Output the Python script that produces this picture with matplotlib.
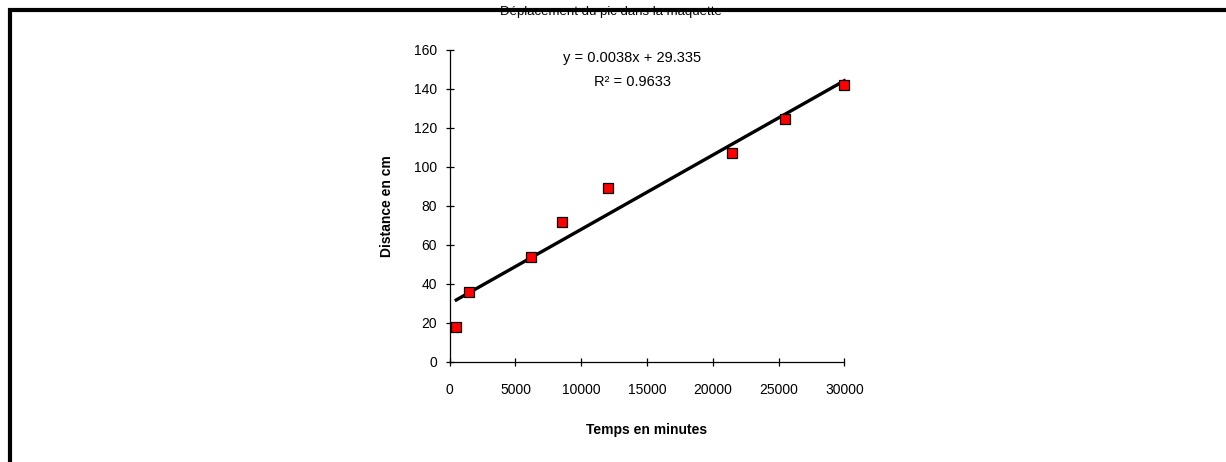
import numpy as np
import matplotlib
matplotlib.use('Agg')
import matplotlib.pyplot as plt
from matplotlib.lines import Line2D
from matplotlib.ticker import MultipleLocator

plt.rcParams['font.family'] = ['Liberation Sans', 'DejaVu Sans']

# données
temps = [500, 1500, 6200, 8500, 12000, 21500, 25500, 30000]
distance = [18, 36, 53.5, 71.5, 89, 107, 124.5, 142]
titre = "Déplacement du pic dans la maquette"
equation = "y = 0.0038x + 29.335"
r2 = "R² = 0.9633"

W, H = 1226, 462
fig = plt.figure(figsize=(W / 100, H / 100), dpi=100)
ax = fig.add_axes([449.7 / W, 1 - 361.7 / H, 394.6 / W, 311.7 / H])

# courbe de tendance linéaire
pente, origine = np.polyfit(temps, distance, 1)
xt = np.array([temps[0], temps[-1]])
ax.plot(xt, pente * xt + origine, color='black', lw=2.4, zorder=2, clip_on=False)

ax.plot(temps, distance, 's', ms=6.6, mfc='#ff0000', mec='black', mew=0.9,
        zorder=3, clip_on=False)

ax.set_xlim(0, 30000)
ax.set_ylim(0, 160)
ax.xaxis.set_major_locator(MultipleLocator(5000))
ax.yaxis.set_major_locator(MultipleLocator(20))
for s in ['top', 'right']:
    ax.spines[s].set_visible(False)
for s in ['left', 'bottom']:
    ax.spines[s].set_linewidth(0.9)
ax.tick_params(axis='x', direction='inout', length=6, width=0.9, labelsize=10, pad=12)
ax.tick_params(axis='y', direction='inout', length=6, width=0.9, labelsize=10, pad=6)

ax.set_xlabel('Temps en minutes', fontsize=10, fontweight='bold')
ax.xaxis.set_label_coords(0.5, (361.7 - 422.7) / 311.7)
ax.set_ylabel('Distance en cm', fontsize=10, fontweight='bold')
ax.yaxis.set_label_coords((394 - 449.7) / 394.6, 0.5)

ax.text((631.7 - 449.7) / 394.6, (361.7 - 58.3) / 311.7, equation,
        transform=ax.transAxes, ha='center', va='center', fontsize=10.5)
ax.text((632 - 449.7) / 394.6, (361.7 - 81.7) / 311.7, r2,
        transform=ax.transAxes, ha='center', va='center', fontsize=10.5)

# titre, coupé par le cadre
fig.text(611 / W, 1 - 15.5 / H, titre, ha='center', va='baseline', fontsize=9.5)

# cadre noir (haut et gauche)
fig.add_artist(Line2D([8 / W, 1.0], [1 - 10 / H, 1 - 10 / H], color='black',
                      lw=3, solid_capstyle='butt', zorder=10))
fig.add_artist(Line2D([10 / W, 10 / W], [1 - 8 / H, 0.0], color='black',
                      lw=3, solid_capstyle='butt', zorder=10))

fig.savefig('out.png', dpi=100)
